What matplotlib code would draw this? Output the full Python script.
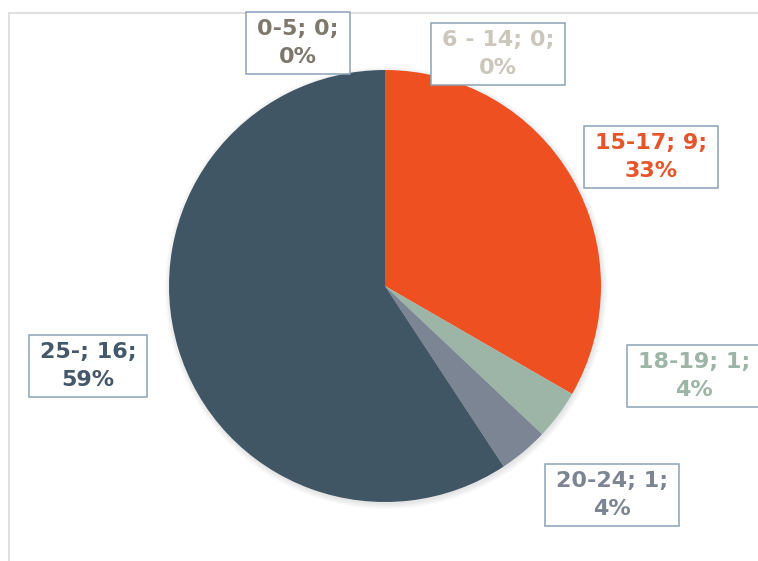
import matplotlib
matplotlib.use('Agg')
import matplotlib.pyplot as plt
from matplotlib.patches import Rectangle, Circle

# Age groups and counts --------------------------------------------------
categories = ['0-5', '6 - 14', '15-17', '18-19', '20-24', '25-']
counts = [0, 0, 9, 1, 1, 16]

slice_colors = ['#7E776C', '#CCC6BD', '#EF5022', '#9CB5A7', '#7B8594', '#405665']
label_colors = ['#7E776C', '#CCC6BD', '#E8542A', '#9CB5A7', '#7B8594', '#43586A']

# label box centres in pixel coordinates (x, y from top)
label_pos = [(298, 43), (498, 54), (651, 157), (694, 376), (612, 495), (88, 366)]

W, H = 758, 561
fig = plt.figure(figsize=(W / 100, H / 100), dpi=100)
ax = fig.add_axes([0, 0, 1, 1])

# chart area frame (light grey, runs off the right and bottom edges)
ax.plot([8.5, 8.5, W + 5], [H + 5, 12.5, 12.5], color='#D9D9D9', lw=1.2,
        solid_joinstyle='miter', zorder=0)

# soft shadow under the pie
for i in range(6):
    ax.add_patch(Circle((386, 288), 216 + i, color='#888888', alpha=0.035,
                        lw=0, zorder=1))

total = sum(counts)
wedges, _ = ax.pie(counts, colors=slice_colors, center=(385, 286), radius=216,
                   startangle=-90, counterclock=True, frame=True,
                   wedgeprops=dict(linewidth=0))
for w in wedges:
    w.set_zorder(2)
ax.set_xlim(0, W)
ax.set_ylim(H, 0)
ax.axis('off')

texts = []
for cat, val, col, (x, y) in zip(categories, counts, label_colors, label_pos):
    pct = 100 * val / total
    t = ax.text(x, y, f'{cat}; {val};\n{pct:.0f}%', ha='center', va='center',
                color=col, fontsize=16, fontweight='bold', family='DejaVu Sans',
                linespacing=1.45, zorder=5)
    texts.append(t)

# label boxes sized from the rendered text
fig.canvas.draw()
renderer = fig.canvas.get_renderer()
inv = ax.transData.inverted()
padx, pady = 11, 7
for t in texts:
    bb = t.get_window_extent(renderer)
    (x0, y0), (x1, y1) = inv.transform([[bb.x0, bb.y0], [bb.x1, bb.y1]])
    top, bottom = min(y0, y1), max(y0, y1)
    ax.add_patch(Rectangle((x0 - padx, top - pady), (x1 - x0) + 2 * padx,
                           (bottom - top) + 2 * pady, fc='white',
                           ec='#8CA2B6', lw=1.1, zorder=4))

fig.savefig('out.png', dpi=100)
